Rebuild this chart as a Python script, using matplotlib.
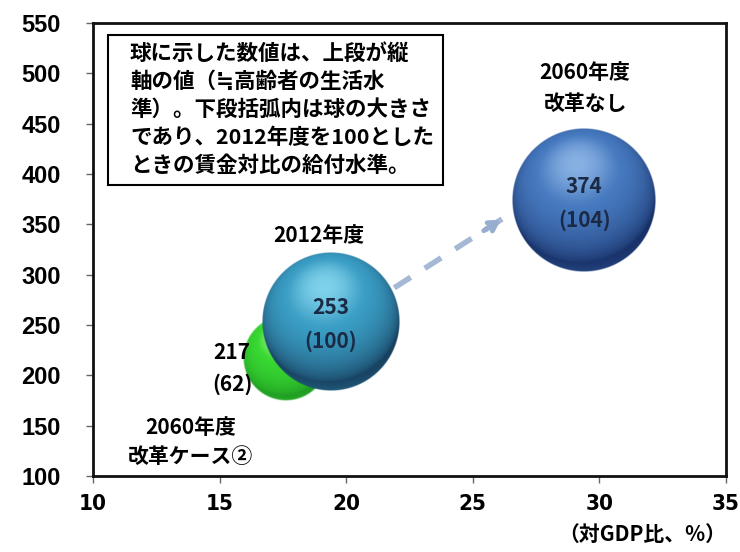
import numpy as np
import matplotlib
matplotlib.use('Agg')
import matplotlib.pyplot as plt
from matplotlib.patches import Rectangle

plt.rcParams['font.family'] = ['Noto Sans CJK JP', 'DejaVu Sans']

# データ
names = ['2060年度\n改革ケース②', '2012年度', '2060年度\n改革なし']
gdp_ratio = [17.6, 19.4, 29.4]        # 横軸（対GDP比、%）
level = [217, 253, 374]               # 縦軸
benefit = [62, 100, 104]              # 球の大きさ（2012年度=100）
ball_colors = [
    ('#a8f59a', '#38d832', '#1f9a22'),   # light, base, dark
    ('#7fd2ea', '#3a9dc4', '#173f5e'),
    ('#88b1e3', '#4679bf', '#172f66'),
]
arrow_from = (21.9, 287)
arrow_to = (26.2, 356)

xticks = [10, 15, 20, 25, 30, 35]
yticks = [100, 150, 200, 250, 300, 350, 400, 450, 500, 550]

note_lines = [
    '球に示した数値は、上段が縦',
    '軸の値（≒高齢者の生活水',
    '準）。下段括弧内は球の大きさ',
    'であり、2012年度を100とした',
    'ときの賃金対比の給付水準。',
]


def sphere_rgba(light, base, dark, n=400, soft=2.0):
    yy, xx = np.mgrid[1:-1:n * 1j, -1:1:n * 1j]
    rr = np.sqrt(xx ** 2 + yy ** 2)
    z = np.sqrt(np.clip(1 - rr ** 2, 0, 1))
    L = np.array([-0.1, 0.5, 0.86])
    L = L / np.linalg.norm(L)
    d = np.clip(xx * L[0] + yy * L[1] + z * L[2], 0, 1)
    lc, bc, dc = (np.array(matplotlib.colors.to_rgb(c)) for c in (light, base, dark))
    t = d[..., None]
    k = 0.8
    col = np.where(t < k, dc + (bc - dc) * (t / k) ** 0.7, bc + (lc - bc) * ((t - k) / (1 - k)) ** 1.5)
    # 下側の照り返し
    rim = (np.clip(-yy, 0, 1) ** 3 * np.clip(rr, 0, 1) ** 6)[..., None] * 0.3
    col = col + (bc - col) * rim
    alpha = np.clip((1 - rr) * n / 2 / soft, 0, 1)
    rgba = np.dstack([np.clip(col, 0, 1), alpha])
    return rgba


fig = plt.figure(figsize=(7.4, 5.52), dpi=100)
ax = fig.add_axes([93 / 740, 76 / 552, 633 / 740, 453 / 552])
ax.set_xlim(10, 35)
ax.set_ylim(100, 550)
ax.set_xticks(xticks)
ax.set_yticks(yticks)

for s in ax.spines.values():
    s.set_linewidth(2)
    s.set_color('#111111')

ax.tick_params(axis='both', direction='out', length=5, width=1, color='#666666')
ax.tick_params(axis='y', pad=18)
ax.tick_params(axis='x', pad=8)
for lab in ax.get_yticklabels():
    lab.set_family('Liberation Sans')
    lab.set_fontweight('bold')
    lab.set_fontsize(17)
for lab in ax.get_xticklabels():
    lab.set_family('DejaVu Sans')
    lab.set_fontstretch('condensed')
    lab.set_fontweight('bold')
    lab.set_fontsize(16)

ax.set_xlabel('（対GDP比、%）', loc='right', fontsize=15, fontweight='bold', labelpad=7)

# 球
fig.canvas.draw()
inv = ax.transData.inverted()
for i, (x, y, b) in enumerate(zip(gdp_ratio, level, benefit)):
    r_px = 0.69 * b
    cx, cy = ax.transData.transform((x, y))
    (x0, y0) = inv.transform((cx - r_px, cy - r_px))
    (x1, y1) = inv.transform((cx + r_px, cy + r_px))
    soft = 6.0 if i == 0 else 2.0
    img = sphere_rgba(*ball_colors[i], soft=soft)
    ax.imshow(img, extent=[x0, x1, y0, y1], aspect='auto', interpolation='bilinear',
              zorder=2 + i)

# 矢印
ax.plot([arrow_from[0], arrow_to[0]], [arrow_from[1], arrow_to[1]], color='#a5b8d6',
        lw=4, linestyle=(0, (3.5, 3)), solid_capstyle='butt', zorder=5)
ax.annotate('', xy=arrow_to, xytext=(arrow_from[0] + 0.8 * (arrow_to[0] - arrow_from[0]),
                                     arrow_from[1] + 0.8 * (arrow_to[1] - arrow_from[1])),
            arrowprops=dict(arrowstyle='->,head_length=0.6,head_width=0.35', color='#98aed0', lw=3.5),
            zorder=5)

ax.set_xlim(10, 35)
ax.set_ylim(100, 550)

# ラベル
txt = dict(fontsize=15, fontweight='bold', ha='center', va='center', zorder=10)
val_color = '#1b2a44'
# 2060 改革ケース②
ax.annotate(str(level[0]), (gdp_ratio[0], level[0]), xytext=(-54, 6), textcoords='offset pixels', **txt)
ax.annotate(f'({benefit[0]})', (gdp_ratio[0], level[0]), xytext=(-53, -26), textcoords='offset pixels', **txt)
ax.annotate(names[0], (gdp_ratio[0], level[0]), xytext=(-95, -84), textcoords='offset pixels',
            linespacing=1.45, **txt)
# 2012
ax.annotate(str(level[1]), (gdp_ratio[1], level[1]), xytext=(0, 14), textcoords='offset pixels',
            color=val_color, **txt)
ax.annotate(f'({benefit[1]})', (gdp_ratio[1], level[1]), xytext=(0, -19), textcoords='offset pixels',
            color=val_color, **txt)
ax.annotate(names[1], (gdp_ratio[1], level[1]), xytext=(-12, 86), textcoords='offset pixels', **txt)
# 2060 改革なし
ax.annotate(str(level[2]), (gdp_ratio[2], level[2]), xytext=(0, 14), textcoords='offset pixels',
            color=val_color, **txt)
ax.annotate(f'({benefit[2]})', (gdp_ratio[2], level[2]), xytext=(0, -20), textcoords='offset pixels',
            color=val_color, **txt)
ax.annotate(names[2], (gdp_ratio[2], level[2]), xytext=(1, 112), textcoords='offset pixels',
            linespacing=1.55, **txt)

# 注記ボックス
ax.add_patch(Rectangle((15 / 633, 291 / 453), 335 / 633, 150 / 453, transform=ax.transAxes,
                       fill=True, fc='white', ec='black', lw=1.5, zorder=8))
for k, line in enumerate(note_lines):
    ax.text(37 / 633, (476 - 53 - 28 * k) / 453, line, transform=ax.transAxes,
            fontsize=15.5, fontweight='bold', ha='left', va='center', zorder=9)

fig.savefig('out.png', dpi=100, facecolor='white')
